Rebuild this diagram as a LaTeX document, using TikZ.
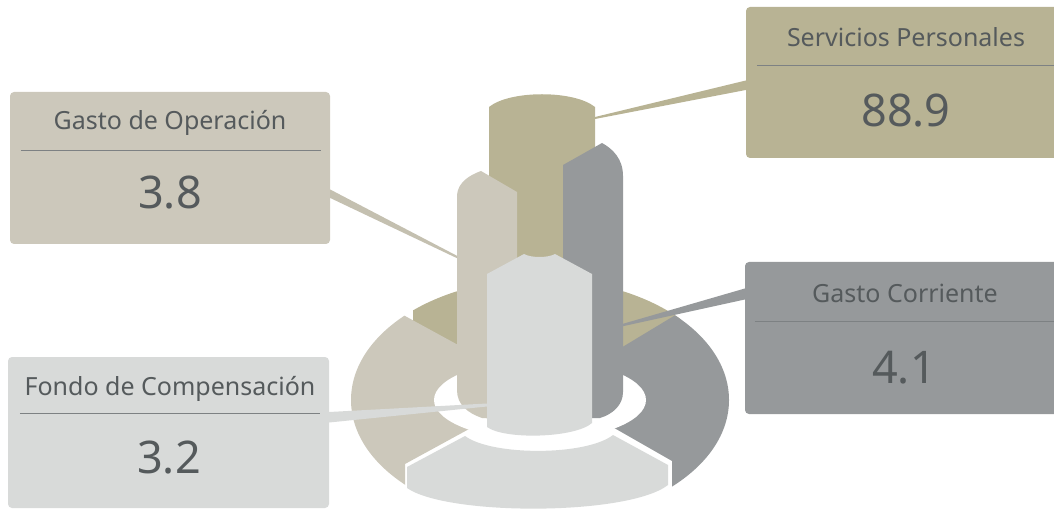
\documentclass[tikz,border=0pt]{standalone}
\usepackage{fontspec}
\setmainfont{Noto Sans}
\usetikzlibrary{calc}
\definecolor{ctan}{RGB}{184,179,148}
\definecolor{cltan}{RGB}{204,200,187}
\definecolor{cltanline}{RGB}{196,192,176}
\definecolor{cgray}{RGB}{150,153,155}
\definecolor{clgray}{RGB}{216,218,217}
\definecolor{ctext}{RGB}{85,90,92}
\definecolor{cdiv}{RGB}{125,129,131}
\begin{document}
\begin{tikzpicture}[x=1pt,y=-1pt,
  box/.style={rounded corners=4pt, inner sep=0pt, minimum width=320pt, minimum height=151pt},
  ttl/.style={anchor=base, text=ctext, font=\fontsize{25}{30}\selectfont, inner sep=0pt},
  val/.style={anchor=base, text=ctext, font=\fontsize{45}{54}\selectfont, inner sep=0pt},
  divl/.style={draw=cdiv, line width=1.2pt},
  wedge/.style={draw=none}
]
\useasboundingbox (0,0) rectangle (1054,510);
\clip (0,0) rectangle (1054,510);

% ---- ring ----
\begin{scope}
  \clip (540,400) ellipse [x radius=189pt, y radius=121pt];
  \fill[ctan] (413,250) -- (413,340) -- (540,400) -- (680,330) -- (680,250) -- cycle;
  \fill[cltan] (330,275) -- (540.5,390) -- (405,464) -- (405,600) -- (330,600) -- cycle;
  \fill[cgray] (549.6,391) -- (808,235) -- (808,600) -- (672,600) -- (672,461) -- cycle;
\end{scope}
\fill[white] (540,400) ellipse [x radius=106pt, y radius=40pt];
\fill[clgray] (407,467) -- (465,436) .. controls (492,456) and (586,456) .. (613,435)
  -- (668,465) -- (668,485) .. controls (628,516) and (447,516) .. (407,488) -- cycle;

% ---- columns ----
\fill[ctan] (489,107) .. controls (510,90) and (574,90) .. (595,107)
  -- (595,245) .. controls (580,265) and (504,265) .. (489,245) -- cycle;
\fill[cltan] (457,195) .. controls (458,182) and (470,175) .. (481,171) -- (517,192)
  -- (517,420) -- (482,418) .. controls (468,413) and (457,405) .. (457,390) -- cycle;
\fill[cgray] (563,165) -- (602,143) .. controls (613,149) and (623,159) .. (623,176)
  -- (623,392) .. controls (623,405) and (613,414) .. (600,418) -- (563,418) -- cycle;
\fill[clgray] (487,274) -- (524,254) .. controls (531,258) and (548,258) .. (555,254)
  -- (592,274) -- (592,423) .. controls (575,438) and (505,440) .. (487,427) -- cycle;

% ---- tips ----
\coordinate (tipsp) at (595,118);
\coordinate (tipgo) at (457,257);
\coordinate (tipgc) at (623,325);
\coordinate (tipfc) at (487,405);

% ---- boxes ----
\node[box, fill=ctan] (sp) at (906,82.5) {};
\node[box, fill=cltan, minimum height=152pt] (go) at (170,168) {};
\node[box, fill=cgray, minimum height=152pt] (gc) at (905,338) {};
\node[box, fill=clgray, minimum width=321pt] (fc) at (168.5,432.5) {};

\draw[divl] ($(sp.north west)+(11,59)$) -- ($(sp.north east)+(-11,59)$);
\draw[divl] ($(go.north west)+(11,59)$) -- ($(go.north east)+(-9,59)$);
\draw[divl] ($(gc.north west)+(10,60)$) -- ($(gc.north east)+(-10,60)$);
\draw[divl] ($(fc.north west)+(12,57)$) -- ($(fc.north east)+(-9,57)$);

\node[ttl] (spt) at (906,47) {Servicios Personales};
\node[val] (spv) at (906,127) {88.9};
\node[ttl] (got) at (170,130) {Gasto de Operación};
\node[val] (gov) at (170,209) {3.8};
\node[ttl] (gct) at (905,303) {Gasto Corriente};
\node[val] (gcv) at (904,383) {4.1};
\node[ttl] (fct) at (170,395) {Fondo de Compensación};
\node[val] (fcv) at (169,473) {3.2};

% ---- connectors ----
\fill[ctan] ($(sp.west)+(0,-2)$) -- ($(sp.west)+(0,7.5)$) -- ($(tipsp)+(0,1)$) -- ($(tipsp)+(0,-1)$) -- cycle;
\fill[cltanline] ($(go.east)+(0,21.5)$) -- ($(go.east)+(0,30)$) -- ($(tipgo)+(0,1.2)$) -- ($(tipgo)+(0,-1.2)$) -- cycle;
\fill[cgray] ($(gc.west)+(0,-49.5)$) -- ($(gc.west)+(0,-38.5)$) -- ($(tipgc)+(0,1.2)$) -- ($(tipgc)+(0,-1.2)$) -- cycle;
\fill[clgray] ($(fc.east)+(0,-20.5)$) -- ($(fc.east)+(0,-10)$) -- ($(tipfc)+(0,1.5)$) -- ($(tipfc)+(0,-1.5)$) -- cycle;
\end{tikzpicture}
\end{document}
